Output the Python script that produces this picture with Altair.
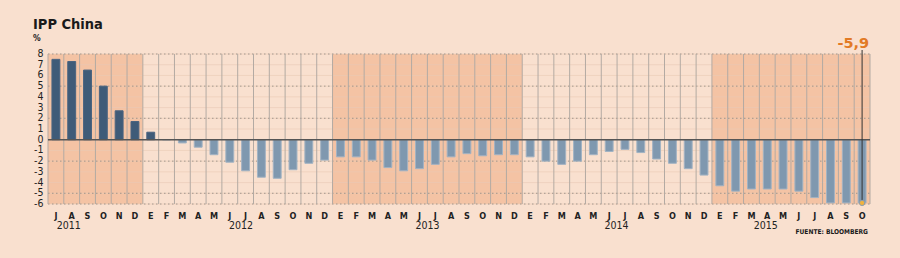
import altair as alt
import pandas as pd

# ---- data ----
months = ["J", "A", "S", "O", "N", "D",
          "E", "F", "M", "A", "M", "J", "J", "A", "S", "O", "N", "D",
          "E", "F", "M", "A", "M", "J", "J", "A", "S", "O", "N", "D",
          "E", "F", "M", "A", "M", "J", "J", "A", "S", "O", "N", "D",
          "E", "F", "M", "A", "M", "J", "J", "A", "S", "O"]
values = [7.5, 7.3, 6.5, 5.0, 2.7, 1.7,
          0.7, 0.0, -0.3, -0.7, -1.4, -2.1, -2.9, -3.5, -3.6, -2.8, -2.2, -1.9,
          -1.6, -1.6, -1.9, -2.6, -2.9, -2.7, -2.3, -1.6, -1.3, -1.5, -1.4, -1.4,
          -1.6, -2.0, -2.3, -2.0, -1.4, -1.1, -0.9, -1.2, -1.8, -2.2, -2.7, -3.3,
          -4.3, -4.8, -4.6, -4.6, -4.6, -4.8, -5.4, -5.9, -5.9, -5.9]
years = ["2011", "2012", "2013", "2014", "2015"]
year_label_pos = [0.55, 11.45, 23.25, 35.2, 44.65]   # month index where label starts
shaded_start = [0, 18, 42]
shaded_end = [6, 30, 52]
y_ticks = list(range(-6, 9))
y_tick_labels = [str(v) for v in y_ticks]
dotted_levels = [8, 5, 2, -2, -5, -6]
last_label = "-5,9"

W, H = 822, 150
N = len(values)
BG = "#f9e0cf"

df = pd.DataFrame({
    "i": range(N),
    "month": months,
    "value": values,
})
df["x0"] = df["i"] + 0.25
df["x1"] = df["i"] + 0.75
df["xc"] = df["i"] + 0.5
df["kind"] = ["pos" if v > 0 else "neg" for v in values]

xs = alt.Scale(domain=[0, N], nice=False, zero=False)
ys = alt.Scale(domain=[-6, 8], nice=False, zero=False)

bands = pd.DataFrame({"s": shaded_start, "e": shaded_end, "lo": -6, "hi": 8})
band_layer = alt.Chart(bands).mark_rect(color="#f4c3a4").encode(
    x=alt.X("s:Q", scale=xs, axis=None), x2="e:Q",
    y=alt.Y("lo:Q", scale=ys, axis=None), y2="hi:Q")

hg = pd.DataFrame({"v": y_ticks, "lbl": y_tick_labels})
hfaint = alt.Chart(hg).mark_rule(color="#e9c9b6", strokeWidth=0.6).encode(
    y=alt.Y("v:Q", scale=ys, axis=None), x=alt.value(0), x2=alt.value(W))

ylabels = alt.Chart(hg).mark_text(font="DejaVu Sans Condensed", fontSize=10.5, color="#222222",
                                   align="right", baseline="middle").encode(
    y=alt.Y("v:Q", scale=ys, axis=None), x=alt.value(-4.5), text="lbl:N")

hd = pd.DataFrame({"v": dotted_levels})
hdot = alt.Chart(hd).mark_rule(color="#8f8880", strokeWidth=0.8, strokeDash=[1.5, 2.5]).encode(
    y=alt.Y("v:Q", scale=ys, axis=None), x=alt.value(0), x2=alt.value(W))

vg = pd.DataFrame({"b": list(range(N + 1)), "lo": -6, "hi": 8})
vgrid = alt.Chart(vg).mark_rule(color="#b3aaa3", strokeWidth=1).encode(
    x=alt.X("b:Q", scale=xs, axis=None), y=alt.Y("lo:Q", scale=ys, axis=None), y2="hi:Q")

zero = alt.Chart(pd.DataFrame({"v": [0]})).mark_rule(color="#555555", strokeWidth=1.5).encode(
    y=alt.Y("v:Q", scale=ys, axis=None), x=alt.value(0), x2=alt.value(W))

bars = alt.Chart(df).mark_rect(strokeWidth=1).encode(
    x=alt.X("x0:Q", scale=xs, axis=None), x2="x1:Q",
    y=alt.Y("value:Q", scale=ys, axis=None),
    y2=alt.datum(0),
    color=alt.Color("kind:N", scale=alt.Scale(domain=["pos", "neg"], range=["#3f5b78", "#7f98af"]),
                    legend=None),
    stroke=alt.Stroke("kind:N", scale=alt.Scale(domain=["pos", "neg"], range=["#4a6480", "#a2b3c3"]),
                      legend=None),
)

month_text = alt.Chart(df).mark_text(font="DejaVu Sans Condensed", fontWeight="bold", fontSize=9,
                                     color="#222222", baseline="alphabetic").encode(
    x=alt.X("xc:Q", scale=xs, axis=None), y=alt.value(H + 14.5), text="month:N")

yr = pd.DataFrame({"p": year_label_pos, "t": years})
year_text = alt.Chart(yr).mark_text(font="DejaVu Sans Condensed", fontSize=10.5, color="#222222",
                                    align="left", baseline="alphabetic").encode(
    x=alt.X("p:Q", scale=xs, axis=None), y=alt.value(H + 25), text="t:N")

last = df.iloc[[-1]]
ann_rule = alt.Chart(last).mark_rule(color="#333333", strokeWidth=1).encode(
    x=alt.X("xc:Q", scale=xs, axis=None), y=alt.Y("value:Q", scale=ys, axis=None), y2=alt.value(-4))
ann_pt = alt.Chart(last).mark_point(filled=True, size=28, color="#f0b23e", stroke="#8a9db0",
                                    strokeWidth=1, opacity=1).encode(
    x=alt.X("xc:Q", scale=xs, axis=None), y=alt.Y("value:Q", scale=ys, axis=None))
ann_text = alt.Chart(last.assign(lbl=last_label)).mark_text(
    font="DejaVu Sans", fontWeight="bold", fontSize=14.5, color="#e27a25",
    align="right", baseline="alphabetic", dx=7).encode(
    x=alt.X("xc:Q", scale=xs, axis=None), y=alt.value(-6), text="lbl:N")

title = alt.Chart(pd.DataFrame({"t": ["IPP China"]})).mark_text(
    font="DejaVu Sans Condensed", fontWeight="bold", fontSize=14.5, color="#1a1a1a",
    align="left", baseline="alphabetic").encode(x=alt.value(-15), y=alt.value(-25), text="t:N")
pct = alt.Chart(pd.DataFrame({"t": ["%"]})).mark_text(
    font="DejaVu Sans Condensed", fontWeight="bold", fontSize=8.5, color="#1a1a1a",
    align="left", baseline="alphabetic").encode(x=alt.value(-15), y=alt.value(-13.5), text="t:N")
src = alt.Chart(pd.DataFrame({"t": ["FUENTE: BLOOMBERG"]})).mark_text(
    font="DejaVu Sans Condensed", fontWeight="bold", fontSize=6.6, color="#1a1a1a",
    align="right", baseline="alphabetic").encode(x=alt.value(W - 2), y=alt.value(H + 30), text="t:N")

chart = alt.layer(
    band_layer, hfaint, hdot, vgrid, bars, zero, ylabels, month_text, year_text,
    ann_rule, ann_pt, ann_text, title, pct, src
).properties(
    width=W, height=H,
    autosize=alt.AutoSizeParams(type="none"),
    padding={"left": 48, "top": 54, "right": 30, "bottom": 54},
    background=BG,
).configure_view(stroke=None)

chart.save("out.html", embed_options={"renderer": "svg", "actions": False})
